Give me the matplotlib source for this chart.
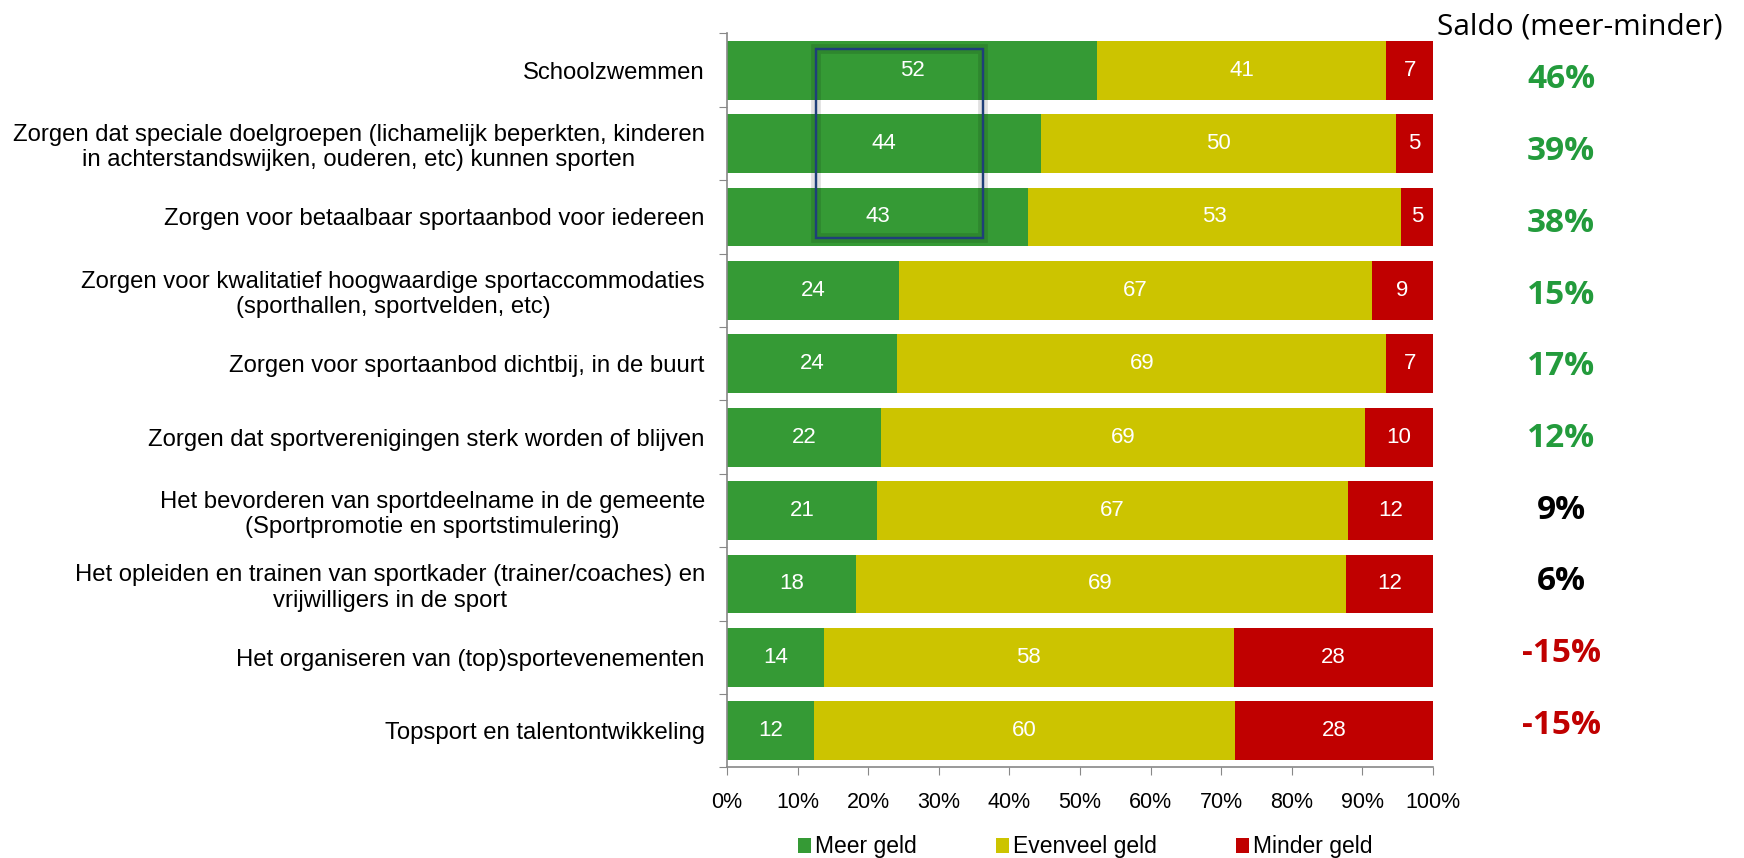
"""Uitgaven gemeente aan sport: meer, evenveel of minder geld (gestapelde balken)"""
import numpy as np
import matplotlib.pyplot as plt
import matplotlib.patheffects as pe
from matplotlib.patches import Rectangle

categories = [
    "Schoolzwemmen",
    "Zorgen dat speciale doelgroepen (lichamelijk beperkten, kinderen\nin achterstandswijken, ouderen, etc) kunnen sporten",
    "Zorgen voor betaalbaar sportaanbod voor iedereen",
    "Zorgen voor kwalitatief hoogwaardige sportaccommodaties\n(sporthallen, sportvelden, etc)",
    "Zorgen voor sportaanbod dichtbij, in de buurt",
    "Zorgen dat sportverenigingen sterk worden of blijven",
    "Het bevorderen van sportdeelname in de gemeente\n(Sportpromotie en sportstimulering)",
    "Het opleiden en trainen van sportkader (trainer/coaches) en\nvrijwilligers in de sport",
    "Het organiseren van (top)sportevenementen",
    "Topsport en talentontwikkeling",
]
meer = [52.4, 44.4, 42.6, 24.3, 24.1, 21.8, 21.3, 18.2, 13.7, 12.3]
evenveel = [41.0, 50.4, 52.8, 67.0, 69.3, 68.6, 66.6, 69.4, 58.1, 59.7]
minder = [6.6, 5.2, 4.6, 8.7, 6.6, 9.6, 12.1, 12.4, 28.2, 28.0]
saldo = [46, 39, 38, 15, 17, 12, 9, 6, -15, -15]
series = ["Meer geld", "Evenveel geld", "Minder geld"]
colors = ["#359A35", "#CCC400", "#C00000"]

plt.rcParams["font.family"] = ["Liberation Sans", "DejaVu Sans"]

fig = plt.figure(figsize=(17.44, 8.58), dpi=100)
ax = fig.add_axes([0.4169, 0.1055, 0.4048, 0.8555])

y = np.arange(len(categories))
left = np.zeros(len(categories))
for vals, name, col in zip([meer, evenveel, minder], series, colors):
    vals = np.array(vals)
    ax.barh(y, vals, left=left, height=0.8, color=col, label=name, zorder=2)
    for yi, l, v in zip(y, left, vals):
        ax.text(l + v / 2, yi, f"{v:.0f}", ha="center", va="center",
                color="white", fontsize=16)
    left += vals

ax.set_xlim(0, 100)
ax.set_ylim(len(categories) - 0.5, -0.5)
ax.set_xticks(np.arange(0, 101, 10))
ax.set_xticklabels([f"{t}%" for t in range(0, 101, 10)], fontsize=15.5)
ax.set_yticks(np.arange(-0.5, len(categories), 1))
ax.set_yticklabels([])
ax.set_yticks(y, minor=True)
ax.set_yticklabels(categories, minor=True, fontsize=17.2, ha="right",
                   multialignment="center")
ax.tick_params(axis="y", which="minor", length=0, pad=16)
ax.tick_params(axis="y", which="major", length=6, color="#888888")
ax.tick_params(axis="x", length=6, color="#888888", pad=12)
for s in ["top", "right"]:
    ax.spines[s].set_visible(False)
for s in ["left", "bottom"]:
    ax.spines[s].set_color("#888888")
    ax.spines[s].set_linewidth(1.2)

# blauw kader rond de "meer geld" waarden van de top 3
box = Rectangle((12.6, -0.29), 23.7, 2.57, fill=False, edgecolor="#1F3F7A",
                linewidth=1.6, zorder=4)
box.set_path_effects([pe.withStroke(linewidth=7, foreground="#000000", alpha=0.12),
                      pe.Normal()])
ax.add_patch(box)

# saldo kolom
fig.text(1580 / 1744, 1 - 27 / 858, "Saldo (meer-minder)", ha="center",
         va="center", fontsize=21.5, family=["Open Sans", "DejaVu Sans"])
for i, s in enumerate(saldo):
    if s >= 10:
        c = "#239B3C"
    elif s >= 0:
        c = "black"
    else:
        c = "#C00000"
    fig.text(1561 / 1744, 1 - (80 + i * 71.67) / 858, f"{s}%", ha="center",
             va="center", fontsize=24, fontweight="bold", color=c,
             family=["Open Sans", "DejaVu Sans"])

fig.legend(loc="center", bbox_to_anchor=(1085 / 1744, 1 - 847 / 858), ncol=3,
           frameon=False, fontsize=16.5, handlelength=0.6, handleheight=0.6,
           handletextpad=0.15, columnspacing=3.45)

fig.savefig("out.png", dpi=100)
